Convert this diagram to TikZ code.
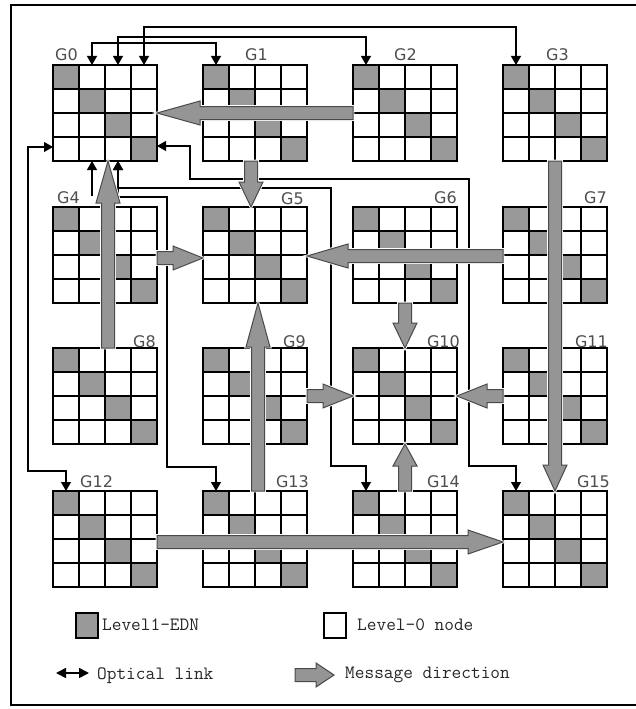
\documentclass[tikz,border=0pt]{standalone}
\usepackage{fontspec}
\newfontfamily\labfont{DejaVu Sans}
\usetikzlibrary{calc,arrows.meta}
\definecolor{edngray}{HTML}{999999}
\definecolor{msgfill}{HTML}{959595}
\definecolor{msgedge}{HTML}{4A4A4A}
\definecolor{labgray}{HTML}{4D4D4D}
\tikzset{
  cellline/.style={line width=1.4pt},
  gridbox/.style={draw, line width=1.4pt, minimum width=104pt, minimum height=96pt, inner sep=0pt, outer sep=0pt},
  edn/.style={fill=edngray},
  glabel/.style={font=\labfont\fontsize{16}{16}\selectfont, text=labgray, inner sep=0pt},
  legtext/.style={font=\ttfamily\fontsize{18.8}{18.8}\selectfont, text=black!85, inner sep=0pt, anchor=base west},
  link/.style={line width=1.1pt, draw=black},
  linkboth/.style={link, {Triangle[length=9pt,width=10pt]}-{Triangle[length=9pt,width=10pt]}},
  linkone/.style={link, -{Triangle[length=9pt,width=10pt]}},
  msg/.style={fill=msgfill, draw=msgedge, line width=1pt, line join=miter, preaction={draw=white, line width=2.8pt}},
  legbox/.style={draw, line width=1.2pt, minimum width=22pt, minimum height=25pt, inner sep=0pt}
}
\newcommand\mkgrid[3]{%
  \begin{scope}[shift={(#2,#3)}]
    \foreach \k in {0,...,3} \fill[edn] (26*\k,24*\k) rectangle ++(26,24);
    \foreach \k in {1,2,3} {\draw[cellline] (26*\k,0) -- (26*\k,96); \draw[cellline] (0,24*\k) -- (104,24*\k);}
    \node[gridbox] (#1) at (52,48) {};
  \end{scope}
}
\newcommand\msgarrow[3]{%
  \draw[msg] let \p1=(#1), \p2=(#2),
    \n1={veclen(\x2-\x1,\y2-\y1)},
    \n2={(\x2-\x1)/\n1}, \n3={(\y2-\y1)/\n1} in
    ({\x1-(\n3)*6.5},{\y1+(\n2)*6.5}) --
    ({\x2-(\n2)*#3-(\n3)*6.5},{\y2-(\n3)*#3+(\n2)*6.5}) --
    ({\x2-(\n2)*#3-(\n3)*12},{\y2-(\n3)*#3+(\n2)*12}) --
    (\p2) --
    ({\x2-(\n2)*#3+(\n3)*12},{\y2-(\n3)*#3-(\n2)*12}) --
    ({\x2-(\n2)*#3+(\n3)*6.5},{\y2-(\n3)*#3-(\n2)*6.5}) --
    ({\x1+(\n3)*6.5},{\y1-(\n2)*6.5}) -- cycle;
}
\begin{document}
\begin{tikzpicture}[x=1pt,y=-1pt]
\useasboundingbox (0,0) rectangle (636,709);
\clip (0,0) rectangle (636,709);
\fill[white] (0,0) rectangle (636,709);
\draw[line width=2.5pt] (11,5) rectangle (660,705);

% grids
\mkgrid{g0}{53}{65}   \mkgrid{g1}{203}{65}   \mkgrid{g2}{353}{65}   \mkgrid{g3}{503}{65}
\mkgrid{g4}{53}{207}  \mkgrid{g5}{203}{207}  \mkgrid{g6}{353}{207}  \mkgrid{g7}{503}{207}
\mkgrid{g8}{53}{348}  \mkgrid{g9}{203}{348}  \mkgrid{g10}{353}{348} \mkgrid{g11}{503}{348}
\mkgrid{g12}{53}{491} \mkgrid{g13}{203}{491} \mkgrid{g14}{353}{491} \mkgrid{g15}{503}{491}

% labels
\node[glabel, anchor=base west] (lab0) at (55,61) {G0};
\node[glabel, anchor=base west] (lab1) at (245,61) {G1};
\node[glabel, anchor=base west] (lab2) at (394,60) {G2};
\node[glabel, anchor=base west] (lab3) at (546,60) {G3};
\node[glabel, anchor=base west] (lab4) at (57,203) {G4};
\node[glabel, anchor=base east] (lab5) at (304,204) {G5};
\node[glabel, anchor=base east] (lab6) at (457,203) {G6};
\node[glabel, anchor=base east] (lab7) at (607,203) {G7};
\node[glabel, anchor=base east] (lab8) at (156,347) {G8};
\node[glabel, anchor=base east] (lab9) at (306,347) {G9};
\node[glabel, anchor=base east] (lab10) at (460,347) {G10};
\node[glabel, anchor=base east] (lab11) at (608,347) {G11};
\node[glabel, anchor=base west] (lab12) at (80,487) {G12};
\node[glabel, anchor=base east] (lab13) at (309,487) {G13};
\node[glabel, anchor=base east] (lab14) at (460,487) {G14};
\node[glabel, anchor=base east] (lab15) at (610,487) {G15};

% link end points
\coordinate (g0t1) at ($(g0.north west)+(39,0)$);
\coordinate (g0t2) at ($(g0.north west)+(65,0)$);
\coordinate (g0t3) at ($(g0.north west)+(91,0)$);
\coordinate (g1t0) at ($(g1.north west)+(13,0)$);
\coordinate (g2t0) at ($(g2.north west)+(13,0)$);
\coordinate (g3t0) at ($(g3.north west)+(13,0)$);
\coordinate (g0l3) at ($(g0.north west)+(0,82)$);
\coordinate (g0r3) at ($(g0.north east)+(0,81)$);
\coordinate (g0b1) at ($(g0.south west)+(39,0)$);
\coordinate (g0b2) at ($(g0.south west)+(65,0)$);
\coordinate (g4stub) at ($(g4.north west)+(39,-11)$);
\coordinate (g12t0) at ($(g12.north west)+(13,0)$);
\coordinate (g13t0) at ($(g13.north west)+(13,0)$);
\coordinate (g14t0) at ($(g14.north west)+(13,0)$);
\coordinate (g15t0) at ($(g15.north west)+(13,0)$);

% optical links
\draw[linkboth] (g0t3) -- ++(0,-38) -| (g3t0);
\draw[linkboth] (g0t2) -- ++(0,-28) -| (g2t0);
\draw[linkboth] (g0t1) -- ++(0,-22) -| (g1t0);
\draw[linkboth] (g0l3) -- ++(-25,0) |- ($(g12t0)+(0,-20)$) -- (g12t0);
\draw[linkone] (g4stub) -- (g0b1);
\draw[linkboth] (g0b2) -- ++(0,27) -| ($(g14t0)+(-35,-25)$) -| (g14t0);
\draw[linkboth] (g0b2) -- ++(0,36) -| ($(g13t0)+(-49,-24)$) -| (g13t0);
\draw[linkboth] (g0r3) -- ++(33,0) -- ++(0,33) -| ($(g15t0)+(-47,-25)$) -| (g15t0);

% message direction arrows
\msgarrow{g2.west}{g0.east}{43}
\msgarrow{$(g1.south)+(-4,0)$}{$(g5.north)+(-4,0)$}{25}
\msgarrow{$(g8.north)+(3,0)$}{$(g0.south)+(3,0)$}{42}
\msgarrow{$(g4.east)+(0,3)$}{$(g5.west)+(0,3)$}{30}
\msgarrow{$(g7.west)+(0,1)$}{$(g5.east)+(0,1)$}{41}
\msgarrow{g6.south}{g10.north}{25}
\msgarrow{g3.south}{g15.north}{26}
\msgarrow{$(g13.north)+(3,0)$}{$(g5.south)+(3,0)$}{44}
\msgarrow{g9.east}{g10.west}{30}
\msgarrow{g11.west}{g10.east}{30}
\msgarrow{g14.north}{g10.south}{22}
\msgarrow{$(g12.east)+(0,3)$}{$(g15.west)+(0,3)$}{35}

% legend
\node[legbox, fill=edngray] (leg1) at (87,625.5) {};
\node[legtext] (legt1) at (102,630) {Level1-EDN};
\node[legbox, fill=white] (leg2) at (335,625.5) {};
\node[legtext] (legt2) at (357,630) {Level-0 node};
\coordinate (lo1) at (56,673);
\coordinate (lo2) at (89,673);
\draw[link, line width=1.6pt, {Triangle[length=10pt,width=10pt]}-{Triangle[length=10pt,width=10pt]}] (lo1) -- (lo2);
\node[legtext] (legt3) at (97,679) {Optical link};
\coordinate (lm1) at (295,675);
\coordinate (lm2) at (334,675);
\msgarrow{lm1}{lm2}{18}
\node[legtext] (legt4) at (345,678) {Message direction};
\end{tikzpicture}
\end{document}
